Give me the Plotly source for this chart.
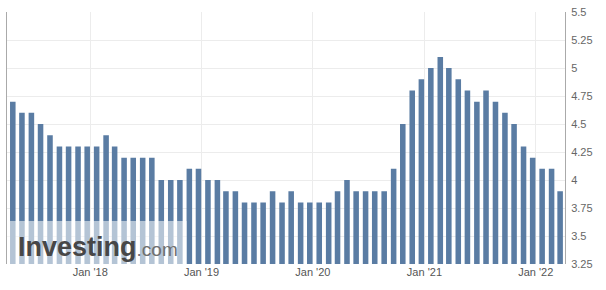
import pandas as pd
import plotly.graph_objects as go

# Monthly values (Apr 2017 - Mar 2022)
dates = pd.date_range("2017-04-01", periods=60, freq="MS") + pd.Timedelta(days=21)
values = [4.7, 4.6, 4.6, 4.5, 4.4, 4.3, 4.3, 4.3, 4.3, 4.3,
          4.4, 4.3, 4.2, 4.2, 4.2, 4.2, 4.0, 4.0, 4.0, 4.1,
          4.1, 4.0, 4.0, 3.9, 3.9, 3.8, 3.8, 3.8, 3.9, 3.8,
          3.9, 3.8, 3.8, 3.8, 3.8, 3.9, 4.0, 3.9, 3.9, 3.9,
          3.9, 4.1, 4.5, 4.8, 4.9, 5.0, 5.1, 5.0, 4.9, 4.8,
          4.7, 4.8, 4.7, 4.6, 4.5, 4.3, 4.2, 4.1, 4.1, 3.9]

x_tickvals = ["2018-01-01", "2019-01-01", "2020-01-01", "2021-01-01", "2022-01-01"]
x_ticktext = ["Jan '18", "Jan '19", "Jan '20", "Jan '21", "Jan '22"]
y_tickvals = [3.25, 3.5, 3.75, 4, 4.25, 4.5, 4.75, 5, 5.25, 5.5]
y_ticktext = ["3.25", "3.5", "3.75", "4", "4.25", "4.5", "4.75", "5", "5.25", "5.5"]

W, H = 606, 290
L, R, T, B = 6, 41, 6, 26
pw, ph = W - L - R, H - T - B

def px_x(p):
    return (p - L) / pw

def px_y(p):
    return (H - B - p) / ph

fig = go.Figure()
fig.add_trace(go.Bar(x=dates, y=values, marker=dict(color="#5a7ca3", line=dict(width=0)),
                     hoverinfo="x+y"))

fig.update_layout(
    width=W, height=H,
    margin=dict(l=L, r=R, t=T, b=B),
    paper_bgcolor="white", plot_bgcolor="white",
    bargap=0.35,
    showlegend=False,
    font=dict(family="Liberation Sans, Arial, sans-serif", size=11, color="#555"),
    xaxis=dict(type="date", range=["2017-04-03", "2022-04-07"],
               tickvals=x_tickvals, ticktext=x_ticktext,
               showgrid=True, gridcolor="#ececec", gridwidth=1,
               showline=False, zeroline=False, ticks="",
               tickfont=dict(size=11, color="#555")),
    yaxis=dict(side="right", range=[3.25, 5.501],
               tickvals=y_tickvals, ticktext=y_ticktext,
               ticklabeloverflow="allow",
               showgrid=True, gridcolor="#ececec", gridwidth=1,
               showline=True, linecolor="#aaaaaa", linewidth=1, mirror=True,
               zeroline=False, ticks="outside", ticklen=3, tickcolor="rgba(0,0,0,0)",
               tickfont=dict(size=11, color="#666")),
)

# watermark backdrop
fig.add_shape(type="rect", xref="paper", yref="paper",
              x0=0, x1=px_x(186), y0=0, y1=px_y(220),
              fillcolor="rgba(255,255,255,0.55)", line=dict(width=0), layer="above")
fig.add_annotation(xref="paper", yref="paper", x=px_x(15), y=px_y(247),
                   xanchor="left", yanchor="middle", showarrow=False,
                   text="<b>Investing</b><span style='font-size:19px;color:#6f6f6f'>.com</span>",
                   font=dict(family="Liberation Sans, Arial, sans-serif", size=27, color="#474747"))

fig.write_html("out.html")
